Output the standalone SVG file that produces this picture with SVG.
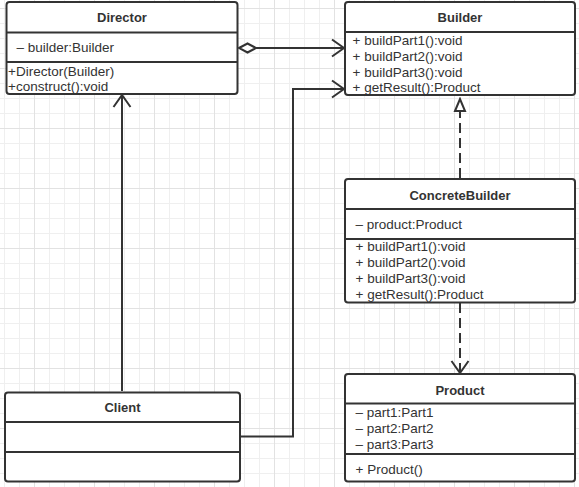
<svg xmlns="http://www.w3.org/2000/svg" width="579" height="487" viewBox="0 0 579 487">
<style>
.box{fill:#fff;stroke:#333;stroke-width:2}
.sep{stroke:#333;stroke-width:2}
.t{font-family:"Liberation Sans",Arial,Helvetica,sans-serif;font-size:13.5px;fill:#333}
.h{font-weight:bold;font-size:13px;text-anchor:middle}
.c{fill:none;stroke:#333;stroke-width:2}
.d{stroke-dasharray:10 5}
</style>
<defs>
<pattern id="grid" x="34" y="8" width="60" height="60" patternUnits="userSpaceOnUse">
<path d="M15.5,0V60M30.5,0V60M45.5,0V60M0,15.5H60M0,30.5H60M0,45.5H60" stroke="#efefef" stroke-width="1" fill="none"/>
<path d="M0.5,0V60M0,0.5H60" stroke="#e2e2e2" stroke-width="1" fill="none"/>
</pattern>
<marker id="open" viewBox="0 0 14 20" refX="13" refY="10" markerWidth="14" markerHeight="20" markerUnits="userSpaceOnUse" orient="auto">
<path d="M1,1.5L13,10L1,18.5" fill="none" stroke="#333" stroke-width="2"/>
</marker>
<marker id="diamond" viewBox="0 0 20 12" refX="1" refY="6" markerWidth="20" markerHeight="12" markerUnits="userSpaceOnUse" orient="auto">
<path d="M1,6L9.5,1.5L18,6L9.5,10.5Z" fill="#fff" stroke="#333" stroke-width="2"/>
</marker>
<marker id="tri" viewBox="0 0 15 14" refX="13" refY="7" markerWidth="15" markerHeight="14" markerUnits="userSpaceOnUse" orient="auto">
<path d="M1,2L13,7L1,12Z" fill="#fff" stroke="#333" stroke-width="2"/>
</marker>
</defs>
<rect width="579" height="487" fill="#fff"/>
<rect width="579" height="487" fill="url(#grid)"/>

<g id="connectors">
<path class="c" d="M239,48H344" marker-start="url(#diamond)" marker-end="url(#open)"/>
<path class="c" d="M241,436.5H293V89H344" marker-end="url(#open)"/>
<path class="c" d="M122,391V95" marker-end="url(#open)"/>
<path class="c d" d="M460,178V99" marker-end="url(#tri)"/>
<path class="c d" d="M460,303V373" marker-end="url(#open)"/>
</g>

<g id="director">
<rect class="box" x="6.5" y="2" width="231" height="92" rx="3"/>
<line class="sep" x1="6.5" y1="32.5" x2="237.5" y2="32.5"/>
<line class="sep" x1="6.5" y1="62" x2="237.5" y2="62"/>
<text class="t h" x="122" y="22">Director</text>
<text class="t" x="16.5" y="52">– builder:Builder</text>
<text class="t" x="8" y="75.5">+Director(Builder)</text>
<text class="t" x="8" y="91">+construct():void</text>
</g>

<g id="builder">
<rect class="box" x="345" y="2" width="230" height="93" rx="3"/>
<line class="sep" x1="345" y1="32" x2="575" y2="32"/>
<text class="t h" x="460" y="22">Builder</text>
<text class="t" x="352.5" y="44.5">+ buildPart1():void</text>
<text class="t" x="352.5" y="60.5">+ buildPart2():void</text>
<text class="t" x="352.5" y="76.5">+ buildPart3():void</text>
<text class="t" x="352.5" y="92">+ getResult():Product</text>
</g>

<g id="concretebuilder">
<rect class="box" x="345" y="179" width="230" height="123.5" rx="3"/>
<line class="sep" x1="345" y1="209" x2="575" y2="209"/>
<line class="sep" x1="345" y1="239" x2="575" y2="239"/>
<text class="t h" x="460" y="199.5">ConcreteBuilder</text>
<text class="t" x="355.5" y="229">– product:Product</text>
<text class="t" x="355.5" y="251">+ buildPart1():void</text>
<text class="t" x="355.5" y="267">+ buildPart2():void</text>
<text class="t" x="355.5" y="283">+ buildPart3():void</text>
<text class="t" x="355.5" y="299">+ getResult():Product</text>
</g>

<g id="product">
<rect class="box" x="345" y="374" width="230" height="107.5" rx="3"/>
<line class="sep" x1="345" y1="403.5" x2="575" y2="403.5"/>
<line class="sep" x1="345" y1="454" x2="575" y2="454"/>
<text class="t h" x="460" y="394.5">Product</text>
<text class="t" x="355.5" y="416.5">– part1:Part1</text>
<text class="t" x="355.5" y="432.5">– part2:Part2</text>
<text class="t" x="355.5" y="448.5">– part3:Part3</text>
<text class="t" x="355.5" y="474">+ Product()</text>
</g>

<g id="client">
<rect class="box" x="5" y="392.5" width="235" height="89" rx="3"/>
<line class="sep" x1="5" y1="422" x2="240" y2="422"/>
<line class="sep" x1="5" y1="452" x2="240" y2="452"/>
<text class="t h" x="122.5" y="412">Client</text>
</g>
</svg>
